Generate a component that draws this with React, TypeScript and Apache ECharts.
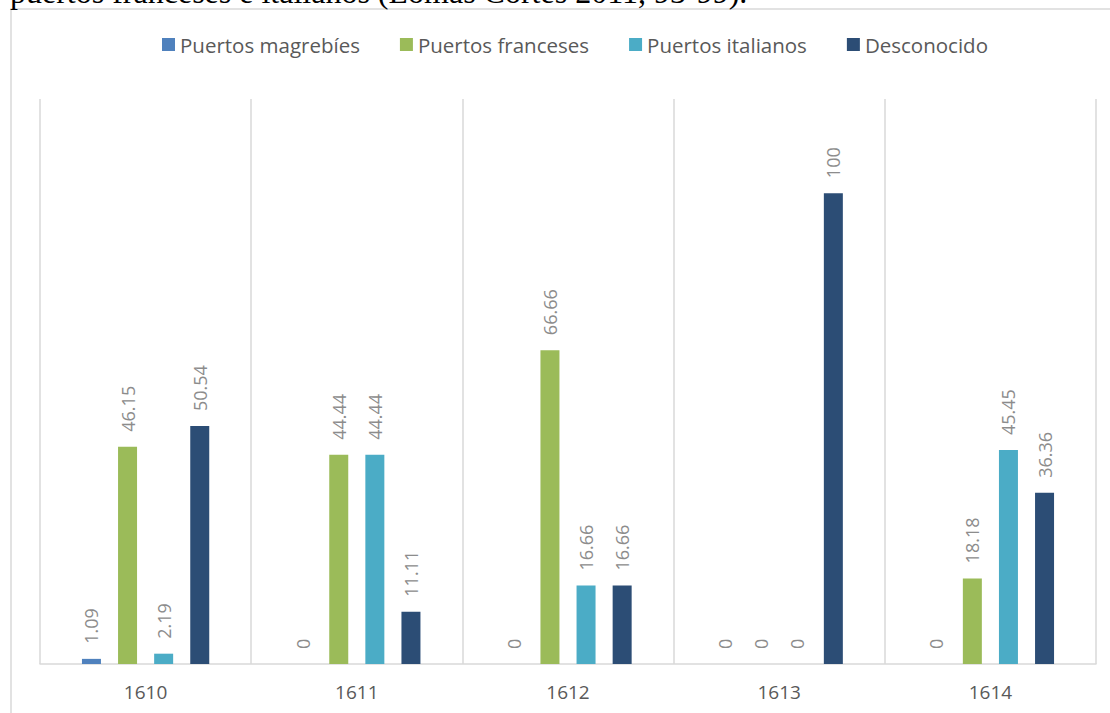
import React, { useEffect, useRef } from "react";
import * as echarts from "echarts";

const categories = ["1610", "1611", "1612", "1613", "1614"];
const seriesNames = ["Puertos magrebíes", "Puertos franceses", "Puertos italianos", "Desconocido"];
const magrebies = [1.09, 0, 0, 0, 0];
const franceses = [46.15, 44.44, 66.66, 0, 18.18];
const italianos = [2.19, 44.44, 16.66, 0, 45.45];
const desconocido = [50.54, 11.11, 16.66, 100, 36.36];
const colors = ["#4f81bd", "#9bbb59", "#4bacc6", "#2c4d75"];
const captionText = "puertos franceses e italianos (Lomas Cortés 2011, 93-99).";

export default function App() {
  const ref = useRef<HTMLDivElement>(null);
  useEffect(() => {
    if (!ref.current) return;
    const chart = echarts.init(ref.current, null, { renderer: "svg" });
    const data = [magrebies, franceses, italianos, desconocido];
    const font = "'Open Sans', 'Noto Sans', sans-serif";
    chart.setOption({
      animation: false,
      backgroundColor: "#ffffff",
      color: colors,
      graphic: [
        {
          type: "rect",
          shape: { x: 11, y: 9, width: 1200, height: 800 },
          style: { fill: "none", stroke: "#d9d9d9", lineWidth: 1.5 },
          silent: true,
        },
        {
          type: "text",
          x: 10,
          y: 8,
          style: {
            text: captionText,
            font: "32px 'Liberation Serif', 'Times New Roman', serif",
            fill: "#000000",
            verticalAlign: "bottom",
            align: "left",
          },
          silent: true,
        },
      ],
      legend: {
        top: 29,
        left: 157,
        icon: "rect",
        itemWidth: 13,
        itemHeight: 13,
        itemGap: 40,
        data: seriesNames,
        textStyle: { color: "#595959", fontSize: 20.5, fontFamily: font },
      },
      grid: { left: 40, right: 14, top: 99, bottom: 49, containLabel: false },
      xAxis: {
        type: "category",
        data: categories,
        boundaryGap: true,
        axisLine: { show: true, lineStyle: { color: "#d9d9d9", width: 1.5 } },
        axisTick: { show: false },
        splitLine: { show: true, lineStyle: { color: "#d9d9d9", width: 1.5 } },
        axisLabel: { color: "#595959", fontSize: 19, fontFamily: font, margin: 18 },
      },
      yAxis: {
        type: "value",
        min: 0,
        max: 120,
        show: false,
        splitLine: { show: false },
      },
      series: seriesNames.map((name, i) => ({
        name,
        type: "bar",
        data: data[i],
        barWidth: 19,
        barGap: "90%",
        itemStyle: { color: colors[i] },
        label: {
          show: true,
          position: "top",
          rotate: 90,
          align: "left",
          verticalAlign: "middle",
          distance: 15,
          color: "#8c8c8c",
          fontSize: 18,
          fontFamily: font,
        },
      })),
    });
    return () => chart.dispose();
  }, []);
  return (
    <div
      ref={ref}
      style={{ position: "fixed", left: 0, top: 0, width: 1110, height: 713 }}
    />
  );
}
